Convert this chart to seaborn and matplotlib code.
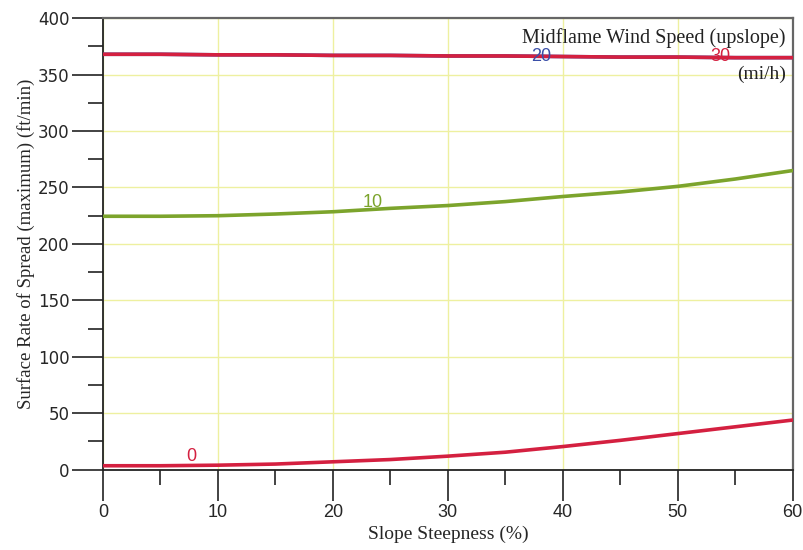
import matplotlib
matplotlib.use("Agg")
import pandas as pd
import seaborn as sns
from matplotlib import pyplot as plt
from matplotlib.ticker import MultipleLocator

# slope steepness (%) and max surface rate of spread (ft/min) per midflame wind speed
slope = [0, 5, 10, 15, 20, 25, 30, 35, 40, 45, 50, 55, 60]
wind_speeds = ["0", "10", "20", "30"]
ros_0 = [3.5, 3.5, 4, 5, 7, 9, 12, 15.5, 20.5, 26, 32, 38, 44]
ros_10 = [224.5, 224.5, 225, 226.5, 228.5, 231.5, 234, 237.5, 242, 246, 251, 257.5, 265]
ros_20 = [368, 368, 367.5, 367.5, 367, 367, 366.5, 366.5, 366, 365.5, 365.5, 365, 365]
ros_30 = [368, 368, 367.5, 367.5, 367, 367, 366.5, 366.5, 366, 365.5, 365.5, 365, 365]

x_label = "Slope Steepness (%)"
y_label = "Surface Rate of Spread (maximum) (ft/min)"
legend_lines = ["Midflame Wind Speed (upslope)", "(mi/h)"]

RED = "#d42040"
GREEN = "#7ca42c"
BLUE = "#3a4fa8"
GRID = "#eef0a0"

sns.set_theme(style="white")
plt.rcParams["font.family"] = ["DejaVu Sans"]

fig = plt.figure(figsize=(8.04, 5.5), dpi=100)
ax = fig.add_axes([0.128, 0.146, 0.858, 0.821])

series = [
    (wind_speeds[0], ros_0, RED),
    (wind_speeds[1], ros_10, GREEN),
    (wind_speeds[2], ros_20, BLUE),
    (wind_speeds[3], ros_30, RED),
]
for name, values, color in series:
    df = pd.DataFrame({"slope": slope, "ros": values})
    sns.lineplot(data=df, x="slope", y="ros", color=color, linewidth=2.6, ax=ax, zorder=3)

# curve labels
label_spots = [(7.7, 4.5, "bottom", RED), (23.5, 229.5, "bottom", GREEN),
               (38.1, 366.0, "center", BLUE), (53.7, 366.0, "center", RED)]
for name, (lx, ly, va, color) in zip(wind_speeds, label_spots):
    ax.text(lx, ly, name, color=color, fontsize=13, ha="center", va=va, family="Liberation Sans", zorder=4)

ax.text(0.99, 0.955, legend_lines[0], transform=ax.transAxes, ha="right", va="center",
        fontsize=14.5, family="Liberation Serif", color="#222222", zorder=5)
ax.text(0.99, 0.875, legend_lines[1], transform=ax.transAxes, ha="right", va="center",
        fontsize=14, family="Liberation Serif", color="#222222", zorder=5)

ax.set_xlim(0, 60)
ax.set_ylim(0, 400)
ax.xaxis.set_major_locator(MultipleLocator(10))
ax.xaxis.set_minor_locator(MultipleLocator(5))
ax.yaxis.set_major_locator(MultipleLocator(50))
ax.yaxis.set_minor_locator(MultipleLocator(25))
ax.grid(True, which="major", color=GRID, linewidth=1.0, zorder=0)

ax.tick_params(axis="x", which="major", direction="out", length=22, width=1.2, color="#222222",
               labelsize=13, pad=3, bottom=True)
ax.tick_params(axis="x", which="minor", direction="out", length=11, width=1.2, color="#222222", bottom=True)
ax.tick_params(axis="y", which="major", direction="out", length=22, width=1.2, color="#222222",
               labelsize=12, pad=2, left=True)
ax.tick_params(axis="y", which="minor", direction="out", length=11, width=1.2, color="#222222", left=True)
for lab in ax.get_xticklabels():
    lab.set_family("Liberation Sans")

ax.set_xlabel(x_label, fontsize=14, family="Liberation Serif", labelpad=3)
ax.set_ylabel(y_label, fontsize=13.5, family="Liberation Serif", labelpad=2)

for side in ["left", "bottom"]:
    ax.spines[side].set_color("#222222")
    ax.spines[side].set_linewidth(1.3)
for side in ["top", "right"]:
    ax.spines[side].set_color("#666666")
    ax.spines[side].set_linewidth(1.6)

fig.savefig("out.png", dpi=100)
